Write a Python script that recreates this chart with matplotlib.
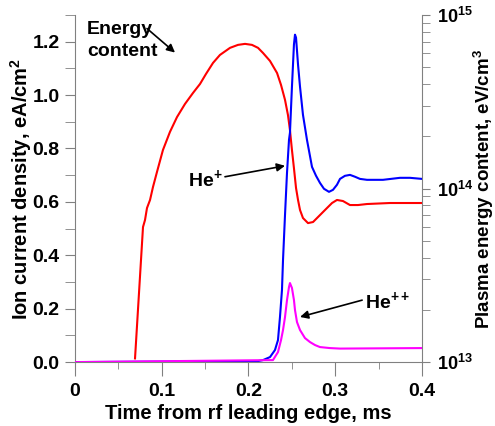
import math

import matplotlib
matplotlib.use("Agg")
import matplotlib.pyplot as plt
from matplotlib.ticker import MultipleLocator, LogLocator, FuncFormatter, NullFormatter

plt.rcParams["font.family"] = ["Liberation Sans", "DejaVu Sans"]
plt.rcParams["font.weight"] = "bold"
plt.rcParams["mathtext.fontset"] = "custom"
plt.rcParams["mathtext.rm"] = "Liberation Sans:bold"
plt.rcParams["mathtext.bf"] = "Liberation Sans:bold"

# He+ ion current density (left axis, eA/cm2)
he1_t = [0.0, 0.2110, 0.2167, 0.2248, 0.2305, 0.2340, 0.2363, 0.2386, 0.2398, 0.2421,
         0.2444, 0.2467, 0.2478, 0.2501, 0.2524, 0.2536, 0.2548, 0.2571, 0.2594, 0.2628,
         0.2674, 0.2732, 0.2778, 0.2824, 0.2870, 0.2928, 0.2974, 0.3020, 0.3055, 0.3112,
         0.3170, 0.3228, 0.3285, 0.3366, 0.3550, 0.3746, 0.3862, 0.4000]
he1_j = [0.0, 0.0038, 0.0075, 0.0188, 0.045, 0.0825, 0.169, 0.270, 0.3825, 0.551,
         0.709, 0.8325, 0.8588, 1.031, 1.189, 1.226, 1.215, 1.114, 1.031, 0.926,
         0.8325, 0.731, 0.698, 0.671, 0.649, 0.6375, 0.645, 0.664, 0.686, 0.6975,
         0.701, 0.694, 0.686, 0.6825, 0.6825, 0.690, 0.690, 0.686]

# He++ ion current density (left axis, eA/cm2)
he2_t = [0.0, 0.2282, 0.2340, 0.2375, 0.2398, 0.2421, 0.2444, 0.2467, 0.2478, 0.2501,
         0.2524, 0.2536, 0.2559, 0.2594, 0.2651, 0.2709, 0.2767, 0.2824, 0.2939, 0.3055, 0.4000]
he2_j = [0.0, 0.0075, 0.0375, 0.0825, 0.120, 0.169, 0.2325, 0.2813, 0.296, 0.2775,
         0.2325, 0.195, 0.150, 0.120, 0.090, 0.075, 0.0638, 0.0563, 0.0525, 0.0506, 0.0525]

# plasma energy content (right axis, eV/cm3)
en_t = [0.0692, 0.0784, 0.0807, 0.0830, 0.0865, 0.0899, 0.0945, 0.1014, 0.1095, 0.1176,
        0.1268, 0.1360, 0.1406, 0.1441, 0.1510, 0.1591, 0.1671, 0.1787, 0.1879, 0.1960,
        0.2040, 0.2110, 0.2167, 0.2248, 0.2329, 0.2375, 0.2421, 0.2455, 0.2478, 0.2501,
        0.2524, 0.2548, 0.2571, 0.2594, 0.2628, 0.2686, 0.2744, 0.2824, 0.2905, 0.2963,
        0.3020, 0.3089, 0.3170, 0.3262, 0.3366, 0.3631, 0.4000]
en_w = [1.05e13, 6.0e13, 6.58e13, 7.72e13, 8.59e13, 1.02e14, 1.245e14, 1.667e14, 2.12e14, 2.58e14,
        3.07e14, 3.55e14, 3.80e14, 4.00e14, 4.57e14, 5.29e14, 5.88e14, 6.46e14, 6.72e14, 6.81e14,
        6.72e14, 6.46e14, 6.04e14, 5.43e14, 4.63e14, 3.95e14, 3.24e14, 2.65e14, 2.17e14, 1.667e14,
        1.31e14, 1.007e14, 8.59e13, 7.52e13, 6.76e13, 6.32e13, 6.41e13, 7.03e13, 7.72e13, 8.25e13,
        8.59e13, 8.47e13, 8.03e13, 8.03e13, 8.14e13, 8.25e13, 8.25e13]

fig = plt.figure(figsize=(4.95, 4.26), dpi=100)
ax = fig.add_axes([0.1515, 0.150, 0.701, 0.815])
ax2 = ax.twinx()

ax2.plot(en_t, en_w, color="#ff0000", lw=1.5, zorder=2)
ax.plot(he1_t, he1_j, color="#0000ff", lw=1.5, zorder=3)
ax.plot(he2_t, he2_j, color="#ff00ff", lw=1.5, zorder=4)
ax.set_zorder(ax2.get_zorder() + 1)
ax.patch.set_visible(False)

ax.set_xlim(0, 0.4)
ax.set_ylim(0, 1.3)
ax2.set_yscale("log")
ax2.set_ylim(1e13, 1e15)

gray = "#808080"
for a in (ax, ax2):
    a.spines["top"].set_visible(False)
    for s in ("left", "right", "bottom"):
        a.spines[s].set_color(gray)
ax.spines["right"].set_visible(False)
ax2.spines["left"].set_visible(False)
ax2.spines["bottom"].set_visible(False)

ax.xaxis.set_major_locator(MultipleLocator(0.1))
ax.xaxis.set_minor_locator(MultipleLocator(0.05))
ax.yaxis.set_major_locator(MultipleLocator(0.2))
ax.yaxis.set_minor_locator(MultipleLocator(0.1))
ax.xaxis.set_major_formatter(FuncFormatter(lambda v, p: "0" if abs(v) < 1e-9 else f"{v:.1f}"))
ax.yaxis.set_major_formatter(FuncFormatter(lambda v, p: f"{v:.1f}"))
ax.tick_params(axis="x", which="major", length=10, color=gray, labelsize=14, pad=5)
ax.tick_params(axis="x", which="minor", length=5, color=gray)
ax.tick_params(axis="y", which="both", length=7, color=gray, labelsize=14, pad=4)

ax2.yaxis.set_major_locator(LogLocator(base=10, numticks=5))
ax2.yaxis.set_minor_locator(LogLocator(base=10, subs=range(2, 10), numticks=5))
ax2.yaxis.set_minor_formatter(NullFormatter())
ax2.yaxis.set_major_formatter(FuncFormatter(lambda v, p: r"$\mathbf{10^{%d}}$" % round(math.log10(v))))
ax2.tick_params(axis="y", which="both", length=6, color=gray, labelsize=13, pad=5)

ax.set_xlabel("Time from rf leading edge, ms", fontsize=14.5, fontweight="bold", labelpad=3)
ax.set_ylabel(r"Ion current density, eA/cm$^{\mathbf{2}}$", fontsize=14.5, fontweight="bold",
              va="center", ha="center")
ax.yaxis.set_label_coords(-0.155, 0.5)
ax2.set_ylabel(r"Plasma energy content, eV/cm$^{\mathbf{3}}$", fontsize=13.5, fontweight="bold",
               va="center", ha="center")
ax2.yaxis.set_label_coords(1.178, 0.5)

arrow = dict(arrowstyle="-|>", color="black", lw=1.2, mutation_scale=12, shrinkA=0, shrinkB=0)
ax.text(0.0138, 1.205, "Energy\ncontent", fontsize=14, fontweight="bold", va="center", ha="left",
        linespacing=1.4)
ax.annotate("", xy=(0.1153, 1.159), xytext=(0.083, 1.249), arrowprops=arrow)
ax.text(0.130, 0.683, r"He$^{\mathbf{+}}$", fontsize=14, fontweight="bold", va="center", ha="left")
ax.annotate("", xy=(0.2421, 0.735), xytext=(0.1729, 0.694), arrowprops=arrow)
ax.text(0.3343, 0.225, r"He$^{\mathbf{++}}$", fontsize=14, fontweight="bold", va="center", ha="left")
ax.annotate("", xy=(0.2594, 0.169), xytext=(0.331, 0.232), arrowprops=arrow)

fig.savefig("out.png", dpi=100)
